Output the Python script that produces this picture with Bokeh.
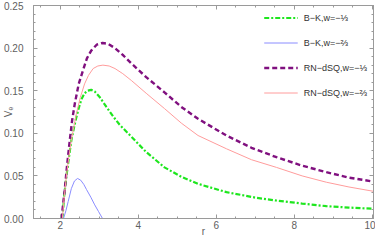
from bokeh.plotting import figure
from bokeh.models import (Range1d, LinearAxis, Legend, LegendItem, FixedTicker, CustomJSTickFormatter)
from bokeh.embed import file_html
from bokeh.resources import INLINE

# ---- data ----
bk1_r = [2.05, 2.10, 2.15, 2.22, 2.28, 2.35, 2.41, 2.48, 2.54, 2.62, 2.70, 2.79, 2.88, 3.00, 3.18, 3.35, 3.52, 3.82, 4.20, 4.67, 5.10, 5.53, 6.26, 7.00, 7.54, 8.20, 8.82, 9.40, 10.02]
bk1_v = [0.0, 0.028, 0.048, 0.072, 0.0915, 0.107, 0.119, 0.131, 0.140, 0.147, 0.150, 0.151, 0.149, 0.143, 0.131, 0.120, 0.110, 0.096, 0.078, 0.060, 0.049, 0.0407, 0.0309, 0.0245, 0.0211, 0.0175, 0.0145, 0.0128, 0.0114]

bk2_r = [2.08, 2.14, 2.20, 2.28, 2.36, 2.44, 2.52, 2.60, 2.67, 2.78, 2.88, 2.98, 3.08]
bk2_v = [0.0, 0.009, 0.020, 0.035, 0.044, 0.047, 0.045, 0.040, 0.034, 0.025, 0.016, 0.008, 0.0]

rn1_r = [2.03, 2.07, 2.11, 2.17, 2.24, 2.30, 2.37, 2.47, 2.58, 2.68, 2.79, 2.93, 3.08, 3.22, 3.40, 3.60, 3.82, 4.20, 4.67, 5.10, 5.53, 6.26, 6.90, 7.54, 8.20, 8.82, 9.40, 10.02]
rn1_v = [0.0, 0.017, 0.033, 0.062, 0.0915, 0.115, 0.135, 0.158, 0.174, 0.188, 0.197, 0.204, 0.206, 0.205, 0.200, 0.192, 0.182, 0.166, 0.148, 0.131, 0.117, 0.0974, 0.083, 0.072, 0.062, 0.0544, 0.048, 0.0434]

rn2_r = [2.05, 2.10, 2.15, 2.22, 2.28, 2.35, 2.41, 2.51, 2.62, 2.72, 2.84, 2.96, 3.09, 3.25, 3.40, 3.60, 3.82, 4.20, 4.67, 5.10, 5.53, 6.26, 6.90, 7.54, 8.20, 8.82, 9.40, 10.02]
rn2_v = [0.0, 0.026, 0.0485, 0.073, 0.0915, 0.109, 0.123, 0.142, 0.158, 0.168, 0.176, 0.179, 0.180, 0.179, 0.176, 0.170, 0.162, 0.147, 0.129, 0.112, 0.0974, 0.0818, 0.069, 0.060, 0.050, 0.0426, 0.037, 0.032]

labels = ["B\u2212K,w=\u2212\u2153", "B\u2212K,w=\u2212\u2154",
          "RN\u2212dSQ,w=\u2212\u2153", "RN\u2212dSQ,w=\u2212\u2154"]

x_ticks = [2, 4, 6, 8, 10]
y_ticks = [0.0, 0.05, 0.10, 0.15, 0.20, 0.25]

FONT = "Liberation Sans"
AX = "#9a9a9a"
TXT = "#606060"

p = figure(frame_width=340, frame_height=213, output_backend="svg", toolbar_location=None,
           x_range=Range1d(1.31, 10.03), y_range=Range1d(0.0, 0.25),
           min_border_left=32, min_border_right=2, min_border_top=5,
           min_border_bottom=22, x_axis_location=None, y_axis_location=None,
           outline_line_color=AX, outline_line_width=1)
p.grid.visible = False

def style_axis(ax):
    ax.axis_line_color = AX
    ax.major_tick_line_color = AX
    ax.minor_tick_line_color = AX
    ax.major_tick_in = 4
    ax.major_tick_out = 0
    ax.minor_tick_in = 2
    ax.minor_tick_out = 0
    ax.major_label_text_font = FONT
    ax.major_label_text_font_size = "10px"
    ax.major_label_text_color = TXT
    ax.axis_label_text_font = FONT
    ax.axis_label_text_font_size = "10px"
    ax.axis_label_text_color = TXT
    ax.axis_label_text_font_style = "normal"

xt = FixedTicker(ticks=x_ticks, minor_ticks=[1.5 + 0.5 * i for i in range(18)])
yt = FixedTicker(ticks=y_ticks, minor_ticks=[0.01 * i for i in range(26)])

bx = LinearAxis(ticker=xt, axis_label="r")
style_axis(bx)
bx.major_label_standoff = 2
bx.axis_label_standoff = -6
p.add_layout(bx, "below")

ly = LinearAxis(ticker=yt, axis_label="V\u2091")
style_axis(ly)
ly.formatter = CustomJSTickFormatter(code="return tick.toFixed(2);")
ly.major_label_standoff = 10
ly.axis_label_standoff = -13
p.add_layout(ly, "left")

tx = LinearAxis(ticker=xt, formatter=CustomJSTickFormatter(code="return '';"))
style_axis(tx)
tx.major_label_standoff = 0
p.add_layout(tx, "above")
ry = LinearAxis(ticker=yt, formatter=CustomJSTickFormatter(code="return '';"))
style_axis(ry)
ry.major_label_standoff = 0
p.add_layout(ry, "right")

r1 = p.line(bk1_r, bk1_v, line_color="#1ee61e", line_width=2.2, line_dash="5 2 2 2")
r2 = p.line(bk2_r, bk2_v, line_color="#8a8cff", line_width=1)
r3 = p.line(rn1_r, rn1_v, line_color="#80107f", line_width=2.4, line_dash="5 3")
r4 = p.line(rn2_r, rn2_v, line_color="#ff9c9c", line_width=1)

legend = Legend(items=[LegendItem(label=l, renderers=[r]) for l, r in zip(labels, [r1, r2, r3, r4])],
                location="top_right", border_line_color=None, background_fill_alpha=0,
                label_text_font=FONT, label_text_font_size="9px", label_text_color="#333333",
                glyph_width=34, glyph_height=13, spacing=12, padding=6, margin=6,
                label_standoff=6)
p.add_layout(legend)

open("out.html", "w").write(file_html(p, INLINE))
